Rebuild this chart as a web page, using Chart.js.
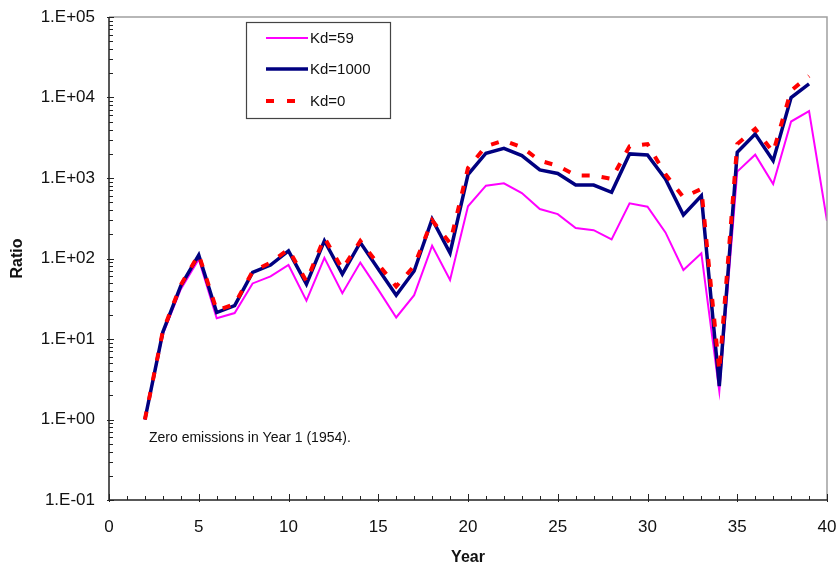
<!DOCTYPE html>
<html>
<head>
<meta charset="utf-8">
<script src="https://cdn.jsdelivr.net/npm/chart.js@4/dist/chart.umd.min.js"></script>
<style>
  html, body { margin: 0; padding: 0; background: #fff; }
  #wrap { width: 839px; height: 565px; }
</style>
</head>
<body>
<div id="wrap"><canvas id="ratioChart"></canvas></div>
<script>
// data (Ratio, log scale)
var years = [2, 3, 4, 5, 6, 7, 8, 9, 10, 11, 12, 13, 14, 15, 16, 17, 18, 19, 20, 21,
             22, 23, 24, 25, 26, 27, 28, 29, 30, 31, 32, 33, 34, 35, 36, 37, 38, 39, 40];
var kd59 = [1.0, 11.5, 41.5, 98, 18.1, 21, 49, 60, 83, 30, 102, 37, 89, 41, 18.5, 35, 144, 54, 445, 803,
            860, 650, 411, 356, 239, 225, 173, 484, 440, 211, 72, 116, 2.25, 1200, 1950, 842, 5030, 6770, 294];
var kd1000 = [1.0, 12.2, 45.7, 110, 21.3, 26, 67, 83, 124, 48, 166, 64, 158, 74, 35, 70, 309, 117, 1100, 2030,
              2340, 1900, 1260, 1140, 818, 818, 664, 1990, 1930, 973, 347, 603, 2.6, 2090, 3530, 1640, 10000, 14800, null];
var kd0 = [1.0, 12.5, 47, 112, 22.7, 27, 69, 89, 130, 52, 182, 74, 165, 85, 45, 81, 298, 155, 1330, 2480,
           2920, 2410, 1640, 1420, 1080, 1070, 975, 2480, 2640, 1110, 576, 730, 4.0, 2640, 4080, 2090, 12200, 18500, null];

var yTickValues = [0.1, 1, 10, 100, 1000, 10000, 100000];
var yTickLabels = ['1.E-01', '1.E+00', '1.E+01', '1.E+02', '1.E+03', '1.E+04', '1.E+05'];
var seriesNames = ['Kd=59', 'Kd=1000', 'Kd=0'];
var note = 'Zero emissions in Year 1 (1954).';

var FONT = "'Liberation Sans', Arial, sans-serif";

function pts(vals) {
    return years.map(function (yr, i) { return { x: yr, y: vals[i] }; });
}

function noPad(s) {
    s.paddingTop = 0; s.paddingBottom = 0; s.paddingLeft = 0; s.paddingRight = 0;
}

// axis frame, inner ticks, legend box and note
var decorPlugin = {
    id: 'decor',
    afterDraw: function (chart) {
        var ctx = chart.ctx;
        var a = chart.chartArea;
        var xs = chart.scales.x, ys = chart.scales.y;
        ctx.save();

        // top and right border (grey)
        ctx.strokeStyle = '#a0a0a0';
        ctx.lineWidth = 1.5;
        ctx.beginPath();
        ctx.moveTo(a.left, a.top);
        ctx.lineTo(a.right, a.top);
        ctx.lineTo(a.right, a.bottom);
        ctx.stroke();

        // left and bottom axis
        ctx.strokeStyle = '#222';
        ctx.lineWidth = 1.5;
        ctx.beginPath();
        ctx.moveTo(a.left, a.top);
        ctx.lineTo(a.left, a.bottom);
        ctx.lineTo(a.right, a.bottom);
        ctx.stroke();

        ctx.lineWidth = 1;
        ctx.beginPath();
        // x ticks, pointing up
        for (var v = 0; v <= 40; v++) {
            var px = Math.round(xs.getPixelForValue(v)) + 0.5;
            var len = (v % 5 === 0) ? 6 : 4;
            ctx.moveTo(px, a.bottom + (v % 5 === 0 ? 2 : 0));
            ctx.lineTo(px, a.bottom - len);
        }
        // y ticks, pointing right (log minor ticks)
        for (var e = -1; e <= 5; e++) {
            for (var m = 1; m <= 9; m++) {
                var val = m * Math.pow(10, e);
                if (val > 100000) break;
                var py = Math.round(ys.getPixelForValue(val)) + 0.5;
                ctx.moveTo(a.left - (m === 1 ? 2 : 0), py);
                ctx.lineTo(a.left + (m === 1 ? 5 : 4), py);
            }
        }
        ctx.stroke();

        // legend box
        var lx = 246, ly = 22, lw = 144, lh = 96;
        ctx.fillStyle = '#fff';
        ctx.fillRect(lx, ly, lw, lh);
        ctx.strokeStyle = '#444';
        ctx.lineWidth = 1.2;
        ctx.strokeRect(lx + 0.5, ly + 0.5, lw, lh);

        var rows = [38, 69, 101];
        ctx.font = '15px ' + FONT;
        ctx.textBaseline = 'middle';
        ctx.textAlign = 'left';
        chart.data.datasets.forEach(function (ds, r) {
            ctx.strokeStyle = ds.borderColor;
            ctx.lineWidth = ds.borderWidth;
            ctx.setLineDash(ds.borderDash && ds.borderDash.length ? [8, 13] : []);
            ctx.beginPath();
            ctx.moveTo(266, rows[r]);
            ctx.lineTo(308, rows[r]);
            ctx.stroke();
            ctx.setLineDash([]);
            ctx.fillStyle = '#111';
            ctx.fillText(ds.label, 310, rows[r] + 1);
        });

        // note
        ctx.font = '14px ' + FONT;
        ctx.fillStyle = '#111';
        ctx.fillText(note, 149, 438);

        ctx.restore();
    }
};

var ctx = document.getElementById('ratioChart').getContext('2d');
var ratioChart = new Chart(ctx, {
    type: 'line',
    data: {
        datasets: [{
            label: seriesNames[0],
            data: pts(kd59),
            borderColor: '#ff00ff',
            borderWidth: 2,
            order: 3
        }, {
            label: seriesNames[1],
            data: pts(kd1000),
            borderColor: '#000080',
            borderWidth: 3.5,
            order: 2
        }, {
            label: seriesNames[2],
            data: pts(kd0),
            borderColor: '#ff0000',
            borderWidth: 4,
            borderDash: [8, 12],
            order: 1
        }]
    },
    options: {
        responsive: true,
        maintainAspectRatio: false,
        animation: false,
        devicePixelRatio: 1,
        spanGaps: false,
        elements: {
            point: { radius: 0, hoverRadius: 0 },
            line: { tension: 0, borderCapStyle: 'butt', borderJoinStyle: 'miter' }
        },
        layout: { padding: { top: 17, right: 12, left: 0, bottom: 0 } },
        plugins: {
            legend: { display: false },
            tooltip: { enabled: false }
        },
        scales: {
            x: {
                type: 'linear',
                min: 0,
                max: 40,
                grid: { display: false, drawTicks: false },
                border: { display: false },
                ticks: {
                    stepSize: 5,
                    padding: 17,
                    color: '#111',
                    font: { family: FONT, size: 17 },
                    maxRotation: 0
                },
                title: {
                    display: true,
                    text: 'Year',
                    color: '#111',
                    font: { family: FONT, size: 16, weight: 'bold' },
                    padding: { top: 0, bottom: -2 }
                },
                afterFit: function (s) { s.height = 65; noPad(s); }
            },
            y: {
                type: 'logarithmic',
                min: 0.1,
                max: 100000,
                grid: { display: false, drawTicks: false },
                border: { display: false },
                afterBuildTicks: function (s) {
                    s.ticks = yTickValues.map(function (v) { return { value: v }; });
                },
                ticks: {
                    padding: 14,
                    color: '#111',
                    font: { family: FONT, size: 17 },
                    callback: function (v) {
                        var i = yTickValues.indexOf(v);
                        return i >= 0 ? yTickLabels[i] : '';
                    }
                },
                title: {
                    display: true,
                    text: 'Ratio',
                    color: '#111',
                    font: { family: FONT, size: 16, weight: 'bold' },
                    padding: { top: 8, bottom: 0 }
                },
                afterFit: function (s) { s.width = 109; noPad(s); }
            }
        }
    },
    plugins: [decorPlugin]
});
</script>
</body>
</html>
